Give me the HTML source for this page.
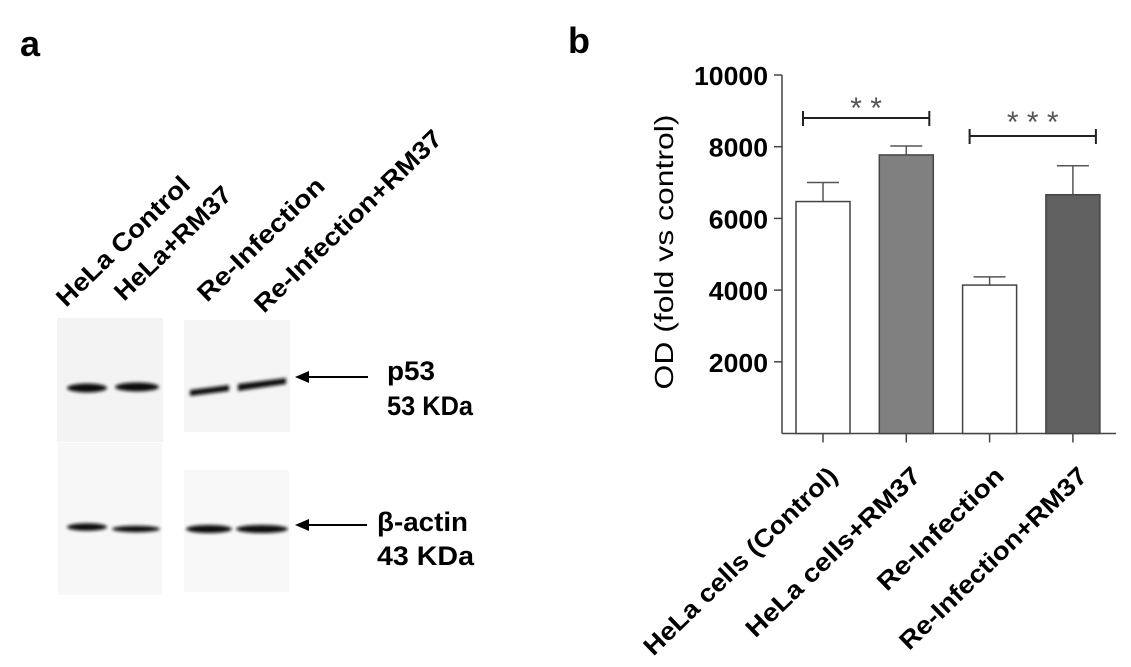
<!DOCTYPE html>
<html><head><meta charset="utf-8"><style>
body{margin:0;background:#fff;}
svg{display:block;font-family:"Liberation Sans",Arial,sans-serif;}
</style></head><body>
<svg id="fig" width="1131" height="667" viewBox="0 0 1131 667">
<defs>
<filter id="blur" x="-20%" y="-200%" width="140%" height="500%"><feGaussianBlur stdDeviation="1.6"/></filter>
</defs>
<text x="20" y="56" font-size="36" font-weight="bold">a</text>
<text x="568" y="53" font-size="36" font-weight="bold">b</text>
<g font-size="25" font-weight="bold">
<text transform="translate(66,308) rotate(-44)" textLength="175" lengthAdjust="spacingAndGlyphs">HeLa Control</text>
<text transform="translate(124,302) rotate(-44)" textLength="152" lengthAdjust="spacingAndGlyphs">HeLa+RM37</text>
<text transform="translate(207,303) rotate(-44)" textLength="166" lengthAdjust="spacingAndGlyphs">Re-Infection</text>
<text transform="translate(264,314) rotate(-44)" textLength="250" lengthAdjust="spacingAndGlyphs">Re-Infection+RM37</text>
</g>
<g>
<rect x="57" y="318" width="106" height="124" fill="#f3f3f3"/>
<rect x="184" y="320" width="106" height="112" fill="#f5f5f5"/>
<rect x="58" y="443" width="104" height="152" fill="#f7f7f7"/>
<rect x="184" y="470" width="105" height="122" fill="#f8f8f8"/>
<g filter="url(#blur)" fill="#111">
<ellipse cx="87" cy="388" rx="20" ry="4.5"/>
<ellipse cx="137" cy="387" rx="22" ry="4.5"/>
<path d="M190 390 L229 385 L229 391 L190 396 Z"/>
<path d="M238 384 L286 378 L286 384 L238 391 Z"/>
<ellipse cx="87" cy="527" rx="20" ry="3.8"/>
<ellipse cx="136" cy="529" rx="24" ry="3.2"/>
<ellipse cx="209" cy="529" rx="23" ry="4"/>
<ellipse cx="262" cy="529" rx="26" ry="4"/>
</g>
</g>
<g>
<line x1="368" y1="377" x2="306" y2="377" stroke="#000" stroke-width="2"/>
<polygon points="295,377 309,371 309,383" fill="#000"/>
<line x1="367" y1="525" x2="306" y2="525" stroke="#000" stroke-width="2"/>
<polygon points="295,525 309,519 309,531" fill="#000"/>
<g font-size="27" font-weight="bold">
<text x="387" y="380" textLength="48" lengthAdjust="spacingAndGlyphs">p53</text>
<text x="387" y="415" textLength="86" lengthAdjust="spacingAndGlyphs">53 KDa</text>
<text x="377" y="531" textLength="91" lengthAdjust="spacingAndGlyphs">β-actin</text>
<text x="377" y="565" textLength="97" lengthAdjust="spacingAndGlyphs">43 KDa</text>
</g>
</g>
<g id="chart"></g>
</svg>
<script>
const categories=["HeLa cells (Control)","HeLa cells+RM37","Re-Infection","Re-Infection+RM37"];
const means=[6470,7770,4140,6660];
const errors=[530,250,230,810];
const fills=["#ffffff","#808080","#ffffff","#606060"];
const yTicks=[2000,4000,6000,8000,10000];
const sigPairs=[[0,1],[2,3]];
const sigLevels=[8800,8300];
const sigLabels=["* *","* * *"];

const NS="http://www.w3.org/2000/svg";
const g=document.getElementById('chart');
const X0=782,X1=1116,Y0=433.5,Ytop=75,YMAX=10000;
const y=v=>Y0-(v/YMAX)*(Y0-Ytop);
const step=83.3,first=823;
const x=i=>first+i*step;
const BW=54;
const labelLens=[258,232,165,250];
function mk(tag,attrs){const e=document.createElementNS(NS,tag);for(const k in attrs)e.setAttribute(k,attrs[k]);g.appendChild(e);return e;}

let ax=mk('line',{x1:X0,y1:Ytop,x2:X0,y2:Y0,stroke:'#444','stroke-width':1.5});


let axx=mk('line',{x1:X0,y1:Y0,x2:X1,y2:Y0,stroke:'#444','stroke-width':1.5});



yTicks.forEach(t=>{
  let l=mk('line',{x1:X0-8,y1:y(t),x2:X0,y2:y(t),stroke:'#444','stroke-width':1.5});
  
  
  let s=String(t);
  let tx=mk('text',{x:X0-14,y:y(t)+10,'text-anchor':'end','font-size':26,'font-weight':'bold',textLength:s.length*14.8,lengthAdjust:'spacingAndGlyphs'});
  tx.textContent=s;
  
  
});

let yt=mk('text',{transform:'translate(673,252) rotate(-90)','text-anchor':'middle','font-size':26,textLength:275,lengthAdjust:'spacingAndGlyphs'});
yt.textContent='OD (fold vs control)';



categories.forEach((c,i)=>{
  const cx=x(i);
  let eb=mk('path',{d:`M${cx} ${y(means[i])} V${y(means[i]+errors[i])} M${cx-16} ${y(means[i]+errors[i])} H${cx+16}`,stroke:'#555','stroke-width':1.5,fill:'none'});
  
  
  let b=mk('rect',{x:cx-BW/2,y:y(means[i]),width:BW,height:Y0-y(means[i]),fill:fills[i],stroke:'#444','stroke-width':1.5});
  
  
  let tk=mk('line',{x1:cx,y1:Y0,x2:cx,y2:Y0+9,stroke:'#444','stroke-width':1.5});
  
  
  let lb=mk('text',{transform:`translate(${cx+16},${Y0+44}) rotate(-44)`,'text-anchor':'end','font-size':25,'font-weight':'bold',textLength:labelLens[i],lengthAdjust:'spacingAndGlyphs'});
  lb.textContent=c;
  
  
});

sigPairs.forEach((p,k)=>{
  const yy=y(sigLevels[k]),xa=x(p[0])-20,xb=x(p[1])+23;
  let s=mk('path',{d:`M${xa} ${yy} H${xb} M${xa} ${yy-7} V${yy+8} M${xb} ${yy-7} V${yy+8}`,stroke:'#222','stroke-width':2,fill:'none'});
  
  
  let st=mk('text',{x:(xa+xb)/2,y:yy-(k?4:0),'text-anchor':'middle','font-size':30,fill:'#555'});
  st.textContent=sigLabels[k];
  
  
});
</script>
</body></html>
